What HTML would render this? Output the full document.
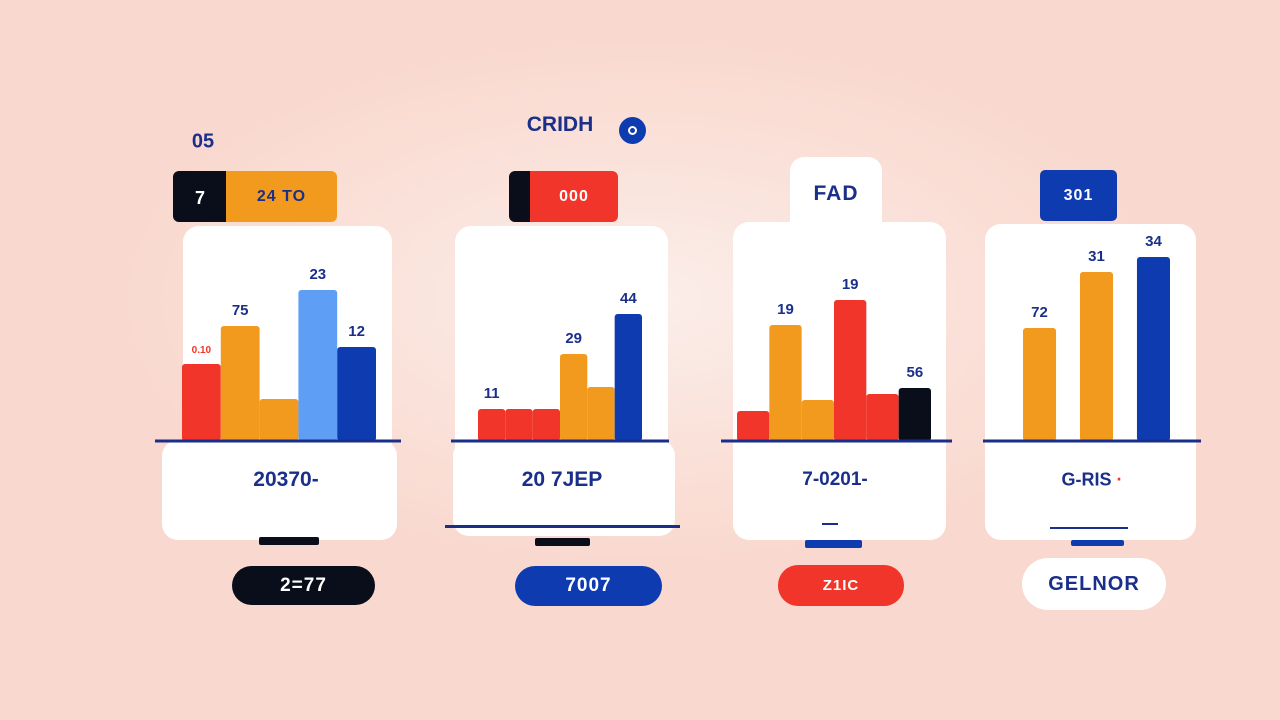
<!DOCTYPE html>
<html><head><meta charset="utf-8">
<style>
html,body{margin:0;padding:0}
body{width:1280px;height:720px;overflow:hidden;position:relative;font-family:"Liberation Sans",sans-serif;
background:radial-gradient(ellipse 520px 260px at 640px 300px,#fbeeea 0%,#fae2da 55%,#f9d9cf 100%);}
.a{position:absolute;box-sizing:border-box}
.card{background:#fff;border-radius:16px}
.t{position:absolute;font-weight:bold;text-align:center;transform:translate(-50%,-50%);white-space:nowrap}
.pill{display:flex;align-items:center;justify-content:center;font-weight:bold;font-size:19px;letter-spacing:1px}
</style></head><body>
<div class="t" style="left:203px;top:142px;font-size:20px;color:#1a2f8a">05</div>
<div class="t" style="left:560px;top:125px;font-size:21px;color:#1a2f8a">CRIDH</div>
<div class="a" style="left:619px;top:117px;width:27px;height:27px;border-radius:50%;background:#0f3bb0"><div style="position:absolute;left:9px;top:9px;width:9px;height:9px;border-radius:50%;border:2px solid #fff;box-sizing:border-box"></div></div>

<!-- tags -->
<div class="a" style="left:173px;top:171px;width:60px;height:51px;background:#0a0d1a;border-radius:6px 0 0 6px;color:#fff;font-weight:bold;font-size:18px;padding:17px 0 0 22px">7</div>
<div class="a pill" style="left:226px;top:171px;width:111px;height:51px;background:#f29a1e;border-radius:0 6px 6px 0;color:#1a2f8a;font-size:16px">24 TO</div>
<div class="a" style="left:509px;top:171px;width:28px;height:51px;background:#0a0d1a;border-radius:6px 0 0 6px"></div>
<div class="a pill" style="left:530px;top:171px;width:88px;height:51px;background:#f2352a;border-radius:0 6px 6px 0;color:#fff;font-size:16px">000</div>
<div class="a card pill" style="left:790px;top:157px;width:92px;height:80px;border-radius:14px;color:#1a2f8a;font-size:21px;align-items:flex-start;padding-top:25px">FAD</div>
<div class="a pill" style="left:1040px;top:170px;width:77px;height:51px;background:#0f3bb0;border-radius:5px;color:#fff;font-size:16px">301</div>

<!-- cards -->
<div class="a card" style="left:183px;top:226px;width:209px;height:240px"></div>
<div class="a card" style="left:162px;top:440px;width:235px;height:100px"></div>
<div class="a card" style="left:455px;top:226px;width:213px;height:240px"></div>
<div class="a card" style="left:453px;top:440px;width:222px;height:96px"></div>
<div class="a" style="left:445px;top:525px;width:235px;height:3px;background:#1a2f8a"></div>
<div class="a card" style="left:733px;top:222px;width:213px;height:318px"></div>
<div class="a card" style="left:985px;top:224px;width:211px;height:316px"></div>

<svg class="a" id="chart" style="left:0;top:0" width="1280" height="720"></svg>

<!-- bottom texts -->
<div class="t" style="left:286px;top:480px;font-size:21px;color:#1a2f8a">20370-</div>
<div class="t" style="left:562px;top:480px;font-size:21px;color:#1a2f8a">20 7JEP</div>
<div class="t" style="left:835px;top:480px;font-size:19px;color:#1a2f8a">7-0201-</div>
<div class="t" style="left:1092px;top:480px;font-size:18px;color:#1a2f8a">G-RIS <span style="color:#f2352a">·</span></div>
<div class="a" style="left:822px;top:523px;width:16px;height:2px;background:#1a2f8a"></div>
<div class="a" style="left:1050px;top:527px;width:78px;height:2px;background:#1a2f8a"></div>
<div class="a" style="left:259px;top:537px;width:60px;height:8px;background:#0a0d1a;border-radius:2px"></div>
<div class="a" style="left:535px;top:538px;width:55px;height:8px;background:#0a0d1a;border-radius:2px"></div>
<div class="a" style="left:805px;top:540px;width:57px;height:8px;background:#0f3bb0;border-radius:2px"></div>
<div class="a" style="left:1071px;top:540px;width:53px;height:6px;background:#0f3bb0;border-radius:2px"></div>

<div class="a pill" style="left:232px;top:566px;width:143px;height:39px;background:#0a0d1a;border-radius:20px;color:#fff">2=77</div>
<div class="a pill" style="left:515px;top:566px;width:147px;height:40px;background:#0f3bb0;border-radius:20px;color:#fff">7007</div>
<div class="a pill" style="left:778px;top:565px;width:126px;height:41px;background:#f2352a;border-radius:20px;color:#fff;font-size:15px">Z1IC</div>
<div class="a pill" style="left:1022px;top:558px;width:144px;height:52px;background:#fff;border-radius:26px;color:#1a2f8a;font-size:20px">GELNOR</div>

<script>
const p1Values=[38.5,57.5,21,75.5,47];
const p2Values=[16,16,16,43.5,27,63.5];
const p3Values=[15,58,20.5,70.5,23.5,26.5];
const p4Values=[56.5,84.5,92];
const p1Labels=["0.10","75","","23","12"];
const p2Labels=["11","","","29","","44"];
const p3Labels=["","19","","19","","56"];
const p4Labels=["72","31","34"];
const svg=document.getElementById('chart');
const NS='http://www.w3.org/2000/svg';
const baseY=441;
function y(v){return v*2;}
const panels=[
 {vals:p1Values,labs:p1Labels,x0:182,x1:376,pad:0,cols:['#f2352a','#f29a1e','#f29a1e','#5e9ef5','#0f3bb0'],lc:['#f2352a','#1a2f8a','#1a2f8a','#1a2f8a','#1a2f8a'],line:[155,401],name:'p1'},
 {vals:p2Values,labs:p2Labels,x0:478,x1:642,pad:0,cols:['#f2352a','#f2352a','#f2352a','#f29a1e','#f29a1e','#0f3bb0'],line:[451,669],name:'p2'},
 {vals:p3Values,labs:p3Labels,x0:737,x1:931,pad:0,cols:['#f2352a','#f29a1e','#f29a1e','#f2352a','#f2352a','#0a0d1a'],line:[721,952],name:'p3'},
 {vals:p4Values,labs:p4Labels,x0:1023,x1:1170,pad:0.42,cols:['#f29a1e','#f29a1e','#0f3bb0'],line:[983,1201],name:'p4'}
];
panels.forEach(p=>{
 const n=p.vals.length;
 const step=(p.x1-p.x0)/(n-p.pad);
 const bw=step*(1-p.pad);
 p.vals.forEach((v,i)=>{
  const r=document.createElementNS(NS,'rect');
  const x=p.x0+i*step;
  r.setAttribute('x',x);r.setAttribute('y',baseY-y(v));
  r.setAttribute('width',bw);r.setAttribute('height',y(v));
  r.setAttribute('rx',3);r.setAttribute('fill',p.cols[i]);
  
  
  svg.appendChild(r);
  if(p.labs[i]){
   const t=document.createElementNS(NS,'text');
   t.setAttribute('x',x+bw/2);t.setAttribute('y',baseY-y(v)-11);
   t.setAttribute('text-anchor','middle');t.setAttribute('font-weight','bold');
   t.setAttribute('font-size',p.labs[i].length>3?10:15);
   t.setAttribute('fill',p.lc?p.lc[i]:'#1a2f8a');
   t.setAttribute('font-family','Liberation Sans, sans-serif');
   t.textContent=p.labs[i];
   
   
   svg.appendChild(t);
  }
 });
 const l=document.createElementNS(NS,'line');
 l.setAttribute('x1',p.line[0]);l.setAttribute('x2',p.line[1]);
 l.setAttribute('y1',baseY);l.setAttribute('y2',baseY);
 l.setAttribute('stroke','#1a2f8a');l.setAttribute('stroke-width',3);
 
 
 svg.appendChild(l);
});
</script>
</body></html>
